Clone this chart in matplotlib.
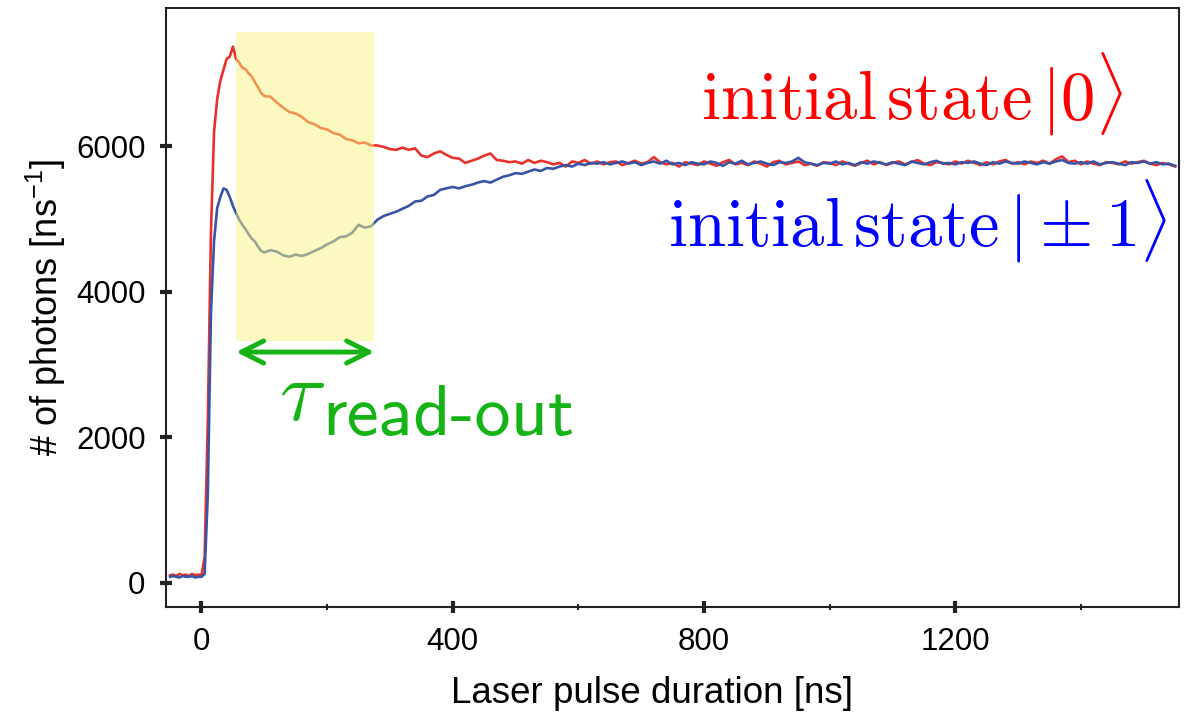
import numpy as np
import matplotlib
matplotlib.use("Agg")
import matplotlib.pyplot as plt
from matplotlib.patches import Rectangle

# Sample times (ns): 5 ns steps through the turn-on, 10 ns steps afterwards
t_fine = np.arange(-50, 100, 5)
t_coarse = np.arange(100, 1551, 10)

# Photon rate [1/ns] for spin state |0>
red_fine = [100, 110, 90, 120, 100, 110, 90, 120, 100, 110,
            100, 350, 2200, 4800, 6200, 6650, 6900, 7050, 7200, 7230,
            7370, 7200, 7150, 7080, 7060, 7000, 6960, 6880, 6810, 6730]
red_coarse = [6690, 6680, 6600, 6530, 6470, 6450, 6400, 6330, 6300, 6250,
              6230, 6180, 6160, 6100, 6080, 6040, 6050, 6010, 6010, 5990,
              5960, 5950, 5980, 5950, 5970, 5870, 5850, 5900, 5930, 5880,
              5840, 5830, 5770, 5800, 5830, 5870, 5900, 5810, 5800, 5780,
              5790, 5760, 5810, 5770, 5800, 5780, 5750, 5770, 5720, 5790,
              5770, 5810, 5760, 5790, 5750, 5780, 5790, 5740, 5770, 5800,
              5760, 5780, 5850, 5780, 5750, 5770, 5720, 5780, 5760, 5740,
              5790, 5760, 5730, 5780, 5810, 5750, 5770, 5740, 5790, 5760,
              5720, 5780, 5800, 5750, 5770, 5790, 5740, 5760, 5730, 5780,
              5770, 5740, 5790, 5760, 5730, 5770, 5800, 5750, 5780, 5740,
              5770, 5790, 5750, 5780, 5810, 5760, 5740, 5780, 5770, 5750,
              5790, 5760, 5800, 5770, 5740, 5780, 5750, 5790, 5810, 5760,
              5780, 5750, 5790, 5770, 5800, 5760, 5820, 5860, 5780, 5800,
              5750, 5790, 5760, 5740, 5780, 5770, 5750, 5790, 5760, 5780,
              5800, 5760, 5740, 5770, 5750, 5720]

# Photon rate [1/ns] for spin state |+-1>
blue_fine = [80, 90, 80, 70, 90, 80, 80, 90, 70, 80,
             80, 120, 1200, 3700, 4700, 5150, 5300, 5420, 5400, 5300,
             5180, 5080, 4990, 4920, 4860, 4790, 4730, 4690, 4620, 4560]
blue_coarse = [4540, 4570, 4550, 4500, 4480, 4510, 4490, 4520, 4560, 4600,
               4650, 4690, 4750, 4760, 4810, 4920, 4880, 4900, 4990, 5040,
               5070, 5100, 5140, 5180, 5240, 5250, 5310, 5330, 5400, 5420,
               5440, 5420, 5450, 5470, 5500, 5520, 5500, 5540, 5580, 5600,
               5630, 5620, 5650, 5680, 5660, 5700, 5690, 5720, 5740, 5720,
               5760, 5740, 5770, 5760, 5780, 5750, 5770, 5790, 5760, 5780,
               5740, 5770, 5790, 5760, 5800, 5750, 5770, 5740, 5780, 5760,
               5750, 5790, 5770, 5730, 5780, 5760, 5800, 5750, 5770, 5790,
               5760, 5740, 5780, 5770, 5790, 5840, 5780, 5760, 5740, 5770,
               5760, 5790, 5750, 5770, 5740, 5780, 5760, 5790, 5770, 5750,
               5780, 5760, 5740, 5790, 5770, 5750, 5780, 5800, 5760, 5770,
               5750, 5780, 5770, 5790, 5760, 5740, 5780, 5760, 5790, 5770,
               5760, 5790, 5770, 5750, 5780, 5760, 5790, 5810, 5770, 5760,
               5780, 5760, 5790, 5750, 5770, 5780, 5760, 5740, 5780, 5770,
               5790, 5760, 5780, 5750, 5760, 5730]

# Read-out window (ns) and its vertical extent
window = (55, 275)
window_y = (3320, 7575)
arrow_y = 3170

xticks = [0, 400, 800, 1200]
xminor = [200, 600, 1000, 1400]
yticks = [0, 2000, 4000, 6000]

t = np.concatenate([t_fine, t_coarse])
red = np.array(red_fine + red_coarse)
blue = np.array(blue_fine + blue_coarse)

RED = "#e8312b"
BLUE = "#3a54a5"
GREEN = "#16b316"
SPINE = "#222222"

plt.rcParams["font.family"] = ["Liberation Sans", "DejaVu Sans"]

fig = plt.figure(figsize=(11.86, 7.14), dpi=100)
ax = fig.add_axes([0.1397, 0.1494, 0.9941 - 0.1397, 0.9888 - 0.1494])

ax.plot(t, red, color=RED, lw=1.9, zorder=2)
ax.plot(t, blue, color=BLUE, lw=1.9, zorder=3)

ax.add_patch(Rectangle((window[0], window_y[0]), window[1] - window[0],
                       window_y[1] - window_y[0], facecolor="#f9f581",
                       edgecolor="none", alpha=0.5, zorder=4))

ax.annotate("", xy=(window[0], arrow_y), xytext=(window[1], arrow_y),
            arrowprops=dict(arrowstyle="<->", color=GREEN, lw=3.5,
                            mutation_scale=40, shrinkA=0, shrinkB=0),
            zorder=5)
ax.text(123, 2235, r"$\tau$", fontsize=62, color=GREEN, va="baseline",
        math_fontfamily="cm")
ax.text(192, 2029, "read-out", fontsize=52, color=GREEN, va="baseline",
        family="cmss10")

ax.text(1467, 6372, r"$\mathrm{initial\,state}\,|0\rangle$", color="#ff0000",
        fontsize=49.5, ha="right", va="baseline", math_fontfamily="cm")
ax.text(1538, 4616, r"$\mathrm{initial\,state}\,|\pm1\rangle$", color="#0000ff",
        fontsize=49.5, ha="right", va="baseline", math_fontfamily="cm")

ax.set_xlim(-57, 1556)
ax.set_ylim(-340, 7900)
ax.set_xticks(xticks)
ax.set_xticks(xminor, minor=True)
ax.set_yticks(yticks)
ax.tick_params(which="major", direction="inout", length=9, width=3,
               color=SPINE, labelsize=22.5, pad=10)
ax.tick_params(which="minor", direction="inout", length=4.5, width=1.5,
               color=SPINE)
ax.tick_params(axis="y", pad=10)
for s in ax.spines.values():
    s.set_linewidth(1.5)
    s.set_color(SPINE)

ax.set_xlabel("Laser pulse duration [ns]", fontsize=26.5, labelpad=12)
ax.xaxis.set_label_coords(0.48, -0.115)
ax.set_ylabel(r"# of photons [ns$^{\mathregular{-1}}$]", fontsize=26, labelpad=6)

fig.savefig("out.png", dpi=100)
